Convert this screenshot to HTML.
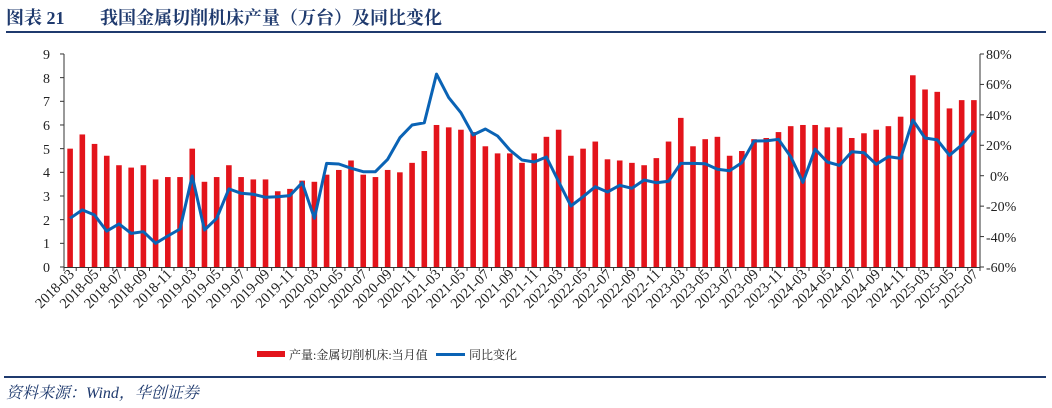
<!DOCTYPE html>
<html><head><meta charset="utf-8">
<style>
body{margin:0;background:#fff;width:1052px;height:408px;overflow:hidden;}
svg{display:block}
.t{font-family:"Liberation Serif","Noto Serif CJK SC",serif;font-size:14px;fill:#222}
.x{font-family:"Liberation Serif",serif;font-size:14.5px;fill:#222}
</style></head><body>
<svg id="s" width="1052" height="408" xmlns="http://www.w3.org/2000/svg">
<text x="6" y="24" style="font-family:'Liberation Serif','Noto Serif CJK SC',serif;font-size:18px;font-weight:bold;fill:#1f3a6e">图表 21<tspan x="100">我国金属切削机床产量（万台）及同比变化</tspan></text>
<rect x="6" y="31" width="1040" height="2" fill="#1f3a6e"/>
<g id="bars"></g>
<polyline id="ln" fill="none" stroke="#0a63b5" stroke-width="3" stroke-linejoin="round"/>
<line x1="64" y1="54" x2="64" y2="268" stroke="#333"/>
<line x1="980" y1="54" x2="980" y2="268" stroke="#333"/>
<line x1="64" y1="267.5" x2="980" y2="267.5" stroke="#333"/>
<g id="ticks" stroke="#333"></g>
<g class="t" text-anchor="end">
<text x="50" y="272">0</text><text x="50" y="248">1</text><text x="50" y="225">2</text><text x="50" y="201">3</text><text x="50" y="177">4</text><text x="50" y="154">5</text><text x="50" y="130">6</text><text x="50" y="106">7</text><text x="50" y="83">8</text><text x="50" y="59">9</text>
</g>
<g class="t">
<text x="986" y="59">80%</text><text x="986" y="89">60%</text><text x="986" y="120">40%</text><text x="986" y="150">20%</text><text x="990" y="181">0%</text><text x="986" y="211">-20%</text><text x="986" y="242">-40%</text><text x="986" y="272">-60%</text>
</g>
<g class="x" text-anchor="end">
<text transform="translate(75,275) rotate(-45)">2018-03</text>
<text transform="translate(99.5,275) rotate(-45)">2018-05</text>
<text transform="translate(123.9,275) rotate(-45)">2018-07</text>
<text transform="translate(148.4,275) rotate(-45)">2018-09</text>
<text transform="translate(172.8,275) rotate(-45)">2018-11</text>
<text transform="translate(197.2,275) rotate(-45)">2019-03</text>
<text transform="translate(221.7,275) rotate(-45)">2019-05</text>
<text transform="translate(246.1,275) rotate(-45)">2019-07</text>
<text transform="translate(270.5,275) rotate(-45)">2019-09</text>
<text transform="translate(295,275) rotate(-45)">2019-11</text>
<text transform="translate(319.4,275) rotate(-45)">2020-03</text>
<text transform="translate(343.8,275) rotate(-45)">2020-05</text>
<text transform="translate(368.2,275) rotate(-45)">2020-07</text>
<text transform="translate(392.7,275) rotate(-45)">2020-09</text>
<text transform="translate(417.1,275) rotate(-45)">2020-11</text>
<text transform="translate(441.5,275) rotate(-45)">2021-03</text>
<text transform="translate(466,275) rotate(-45)">2021-05</text>
<text transform="translate(490.4,275) rotate(-45)">2021-07</text>
<text transform="translate(514.8,275) rotate(-45)">2021-09</text>
<text transform="translate(539.3,275) rotate(-45)">2021-11</text>
<text transform="translate(563.7,275) rotate(-45)">2022-03</text>
<text transform="translate(588.1,275) rotate(-45)">2022-05</text>
<text transform="translate(612.6,275) rotate(-45)">2022-07</text>
<text transform="translate(637,275) rotate(-45)">2022-09</text>
<text transform="translate(661.4,275) rotate(-45)">2022-11</text>
<text transform="translate(685.9,275) rotate(-45)">2023-03</text>
<text transform="translate(710.3,275) rotate(-45)">2023-05</text>
<text transform="translate(734.7,275) rotate(-45)">2023-07</text>
<text transform="translate(759.2,275) rotate(-45)">2023-09</text>
<text transform="translate(783.6,275) rotate(-45)">2023-11</text>
<text transform="translate(808,275) rotate(-45)">2024-03</text>
<text transform="translate(832.4,275) rotate(-45)">2024-05</text>
<text transform="translate(856.9,275) rotate(-45)">2024-07</text>
<text transform="translate(881.3,275) rotate(-45)">2024-09</text>
<text transform="translate(905.7,275) rotate(-45)">2024-11</text>
<text transform="translate(930.2,275) rotate(-45)">2025-03</text>
<text transform="translate(954.6,275) rotate(-45)">2025-05</text>
<text transform="translate(979,275) rotate(-45)">2025-07</text>
</g>
<rect x="257" y="351" width="28" height="6" fill="#e3141b"/>
<text x="289" y="359" style="font-family:'Liberation Serif','Noto Serif CJK SC',serif;font-size:12px;fill:#222">产量:金属切削机床:当月值</text>
<rect x="436" y="353" width="29" height="3" fill="#0a63b5"/>
<text x="469" y="359" style="font-family:'Liberation Serif','Noto Serif CJK SC',serif;font-size:12px;fill:#222">同比变化</text>
<rect x="4" y="376" width="1042" height="2" fill="#1f3a6e"/>
<text x="6" y="398" style="font-family:'Liberation Serif','Noto Serif CJK SC',serif;font-size:16px;font-style:italic;fill:#1f3a6e">资料来源：Wind，华创证券</text>
</svg>
<script>
var b=[5.0,5.6,5.2,4.7,4.3,4.2,4.3,3.7,3.8,3.8,5.0,3.6,3.8,4.3,3.8,3.7,3.7,3.2,3.3,3.65,3.6,3.9,4.1,4.5,3.9,3.8,4.1,4.0,4.4,4.9,6.0,5.9,5.8,5.7,5.1,4.8,4.8,4.4,4.8,5.5,5.8,4.7,5.0,5.3,4.55,4.5,4.4,4.3,4.6,5.3,6.3,5.1,5.4,5.5,4.7,4.9,5.4,5.45,5.7,5.95,6.0,6.0,5.9,5.9,5.45,5.65,5.8,5.95,6.35,8.1,7.5,7.4,6.7,7.05,7.05];
var p=[-28,-22.5,-25.8,-36.4,-31.7,-37.9,-36.8,-44.4,-39.6,-35,-0.2,-35.7,-28,-8.7,-11.6,-12.2,-14.2,-13.8,-13.1,-4.6,-28,8.1,7.7,4.9,2.6,2.6,10.8,25,33.3,34.8,66.8,51.3,41.4,26.8,30.7,26.1,16.9,10.3,9,12.3,-3.9,-19.9,-13.8,-7.2,-10.7,-6.3,-8.3,-2.8,-4.6,-3.7,8.1,8.1,7.8,4.2,3.3,8.5,22.8,22.9,23.9,12.5,-4.4,17.5,9,6.8,15.8,15.1,7.5,12.5,11.4,36.6,24.8,23.5,13.4,20.2,29.6];
var ns="http://www.w3.org/2000/svg",g=document.getElementById("bars"),tk=document.getElementById("ticks"),pts=[];
var w=916/75;
for(var i=0;i<75;i++){var cx=64+(i+0.5)*w;var r=document.createElementNS(ns,"rect");var h=b[i]*23.67;
r.setAttribute("x",cx-2.8);r.setAttribute("width",5.6);r.setAttribute("y",267-h);r.setAttribute("height",h);r.setAttribute("fill","#e3141b");g.appendChild(r);
pts.push(cx.toFixed(1)+","+(175.7-p[i]*30.43/20).toFixed(1));}
for(var i=0;i<=75;i++){var x=64+i*w;var l=document.createElementNS(ns,"line");l.setAttribute("x1",x);l.setAttribute("x2",x);l.setAttribute("y1",267);l.setAttribute("y2",271);tk.appendChild(l);}
for(var k=0;k<=9;k++){var y=267-k*23.67;var l=document.createElementNS(ns,"line");l.setAttribute("x1",60);l.setAttribute("x2",64);l.setAttribute("y1",y);l.setAttribute("y2",y);tk.appendChild(l);}
for(var k=0;k<=7;k++){var y=267-k*30.43;var l=document.createElementNS(ns,"line");l.setAttribute("x1",980);l.setAttribute("x2",984);l.setAttribute("y1",y);l.setAttribute("y2",y);tk.appendChild(l);}
document.getElementById("ln").setAttribute("points",pts.join(" "));
</script>
</body></html>
